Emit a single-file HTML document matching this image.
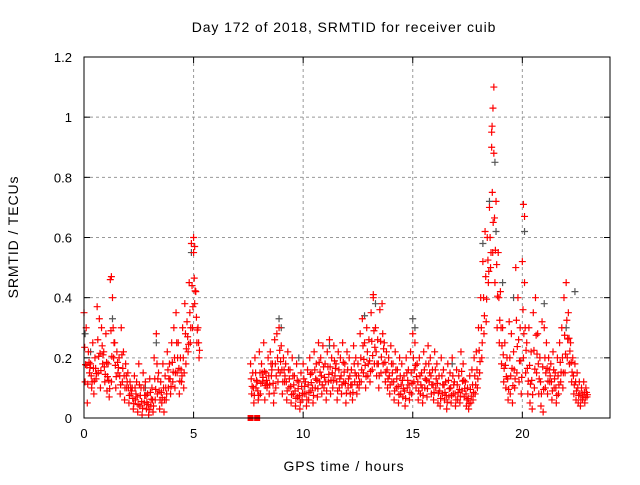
<!DOCTYPE html>
<html><head><meta charset="utf-8"><style>
html,body{margin:0;padding:0;background:#fff;}
svg text{font-family:"Liberation Sans",sans-serif;font-size:13px;fill:#000;}
svg text.big{font-size:14px;letter-spacing:0.9px;}
</style></head><body>
<svg id="chart" width="640" height="480" viewBox="0 0 640 480">
<rect width="640" height="480" fill="#fff"/>
<text class="big" x="344" y="32" text-anchor="middle">Day 172 of 2018, SRMTID for receiver cuib</text>
<text class="big" x="344" y="471" text-anchor="middle">GPS time / hours</text>
<text class="big" transform="translate(18,237) rotate(-90)" text-anchor="middle">SRMTID / TECUs</text>
<g id="grid"></g>
<g id="ticks"></g>
<g id="dark"></g>
<g id="red"></g>
<rect x="84" y="57" width="526" height="361" fill="none" stroke="#000" stroke-width="1"/>
</svg>
<script>
const xTicks=[0,5,10,15,20];
const yTicks=[0,0.2,0.4,0.6,0.8,1,1.2];
const yTickLabels=["0","0.2","0.4","0.6","0.8","1","1.2"];
const seg1Start=0, seg2Start=7.6, sampleStep=0.1;
const seg1Upper=[.35,.30,.22,.18,.25,.20,.37,.33,.30,.22,.28,.18,.46,.40,.25,.22,.20,.30,.22,.18,.15,.12,.10,.14,.12,.18,.10,.15,.12,.08,.13,.10,.20,.28,.15,.12,.18,.14,.22,.18,.25,.30,.35,.25,.20,.30,.38,.32,.45,.58,.55,.42,.30];
const seg1Lower=[.12,.05,.15,.10,.08,.13,.15,.10,.18,.12,.09,.07,.12,.20,.10,.15,.08,.12,.06,.10,.05,.08,.03,.06,.02,.04,.01,.05,.03,.01,.04,.02,.06,.08,.03,.05,.02,.06,.10,.08,.12,.10,.15,.08,.12,.10,.18,.22,.25,.30,.38,.25,.20];
const seg2Upper=[.18,.15,.20,.12,.22,.18,.25,.15,.20,.22,.18,.26,.28,.30,.24,.20,.18,.22,.16,.20,.14,.18,.12,.15,.18,.12,.16,.20,.15,.22,.18,.25,.20,.24,.18,.22,.26,.20,.24,.18,.22,.20,.25,.18,.22,.20,.16,.24,.20,.18,.28,.33,.25,.30,.26,.35,.40,.30,.26,.36,.38,.25,.22,.20,.24,.18,.22,.16,.20,.18,.14,.20,.16,.22,.28,.25,.18,.20,.15,.22,.18,.24,.20,.16,.22,.18,.14,.20,.16,.12,.18,.15,.20,.12,.16,.14,.22,.18,.12,.10,.14,.16,.20,.22,.30,.40,.52,.62,.60,.70,.95,.88,.72,.55,.42,.30,.25,.20,.32,.28,.22,.50,.40,.30,.52,.45,.25,.30,.22,.35,.40,.28,.20,.32,.30,.25,.20,.18,.22,.15,.20,.25,.30,.40,.45,.35,.25,.20,.18,.15,.12,.10,.12,.10];
const seg2Lower=[.08,.05,.10,.06,.08,.12,.06,.10,.08,.14,.05,.10,.12,.15,.08,.12,.06,.10,.05,.08,.04,.07,.03,.06,.08,.04,.06,.09,.05,.10,.07,.12,.08,.10,.06,.12,.08,.10,.14,.06,.10,.08,.12,.05,.10,.08,.06,.12,.08,.10,.12,.15,.10,.14,.12,.16,.18,.14,.10,.15,.18,.12,.10,.08,.12,.06,.10,.05,.08,.07,.04,.10,.06,.08,.12,.10,.06,.08,.05,.10,.07,.12,.08,.06,.10,.05,.04,.08,.06,.03,.07,.05,.08,.04,.06,.05,.09,.07,.04,.03,.05,.06,.08,.10,.15,.20,.28,.32,.45,.50,.55,.45,.30,.25,.18,.12,.10,.06,.08,.05,.10,.15,.12,.08,.20,.15,.08,.05,.03,.10,.15,.08,.04,.02,.10,.08,.12,.06,.10,.05,.08,.12,.10,.15,.20,.18,.12,.08,.06,.05,.04,.06,.05,.07];
const peakTimes=[5.0,5.05,18.62,18.66,18.7,18.6,20.05,20.1,1.25,13.2];
const peakValues=[.60,.57,.97,1.03,1.10,.90,.71,.67,.47,.41];
const darkTimes=[0.05,0.3,1.3,3.3,4.9,8.9,9.0,12.8,13.3,15.0,15.1,18.2,18.5,18.75,18.8,19.1,19.6,20.1,21.0,22.0,22.4,9.8,11.2,16.8,2.8];
const darkValues=[.28,.22,.33,.25,.55,.33,.30,.34,.38,.33,.30,.58,.72,.85,.62,.45,.40,.62,.38,.30,.42,.20,.24,.18,.10];
const squareTimes=[7.6,7.9];
const squareValues=[0,0];

const X0=84,X1=610,Y0=418,Y1=57,XMAX=24,YMAX=1.2;
const xs=t=>X0+t/XMAX*(X1-X0);
const ys=v=>Y0-v/YMAX*(Y0-Y1);
const NS="http://www.w3.org/2000/svg";
function mk(tag,attrs,parent){const e=document.createElementNS(NS,tag);for(const k in attrs)e.setAttribute(k,attrs[k]);parent.appendChild(e);return e;}
const grid=document.getElementById('grid'),ticks=document.getElementById('ticks');
xTicks.forEach(t=>{
  const x=xs(t);
  if(t>0){const l=mk('line',{x1:x,x2:x,y1:Y1,y2:Y0,stroke:'#999','stroke-dasharray':'3,3'},grid);
  
  }
  mk('line',{x1:x,x2:x,y1:Y0,y2:Y0-6,stroke:'#000'},ticks);
  mk('line',{x1:x,x2:x,y1:Y1,y2:Y1+6,stroke:'#000'},ticks);
  const tx=mk('text',{x:x,y:Y0+20,'text-anchor':'middle'},ticks);tx.textContent=t;
  
  
});
yTicks.forEach((v,i)=>{
  const y=ys(v);
  if(v>0&&v<YMAX){const l=mk('line',{x1:X0,x2:X1,y1:y,y2:y,stroke:'#999','stroke-dasharray':'3,3'},grid);
  
  }
  mk('line',{x1:X0,x2:X0+6,y1:y,y2:y,stroke:'#000'},ticks);
  mk('line',{x1:X1,x2:X1-6,y1:y,y2:y,stroke:'#000'},ticks);
  const tx=mk('text',{x:X0-12,y:y+5,'text-anchor':'end'},ticks);tx.textContent=yTickLabels[i];
  
  
});
function plus(t,v,col,g){
  const x=xs(t),y=ys(v);
  const p=mk('path',{d:`M${x-3.5},${y}H${x+3.5}M${x},${y-3.5}V${y+3.5}`,stroke:col,'stroke-width':1.2,fill:'none'},g);
  
  
}
const dark=document.getElementById('dark'),red=document.getElementById('red');
darkTimes.forEach((t,i)=>plus(t,darkValues[i],'#555',dark));
seg1Upper.forEach((v,i)=>{const t=seg1Start+i*sampleStep;plus(t,v,'#f00',red);plus(t+0.05,seg1Lower[i],'#f00',red);plus(t+0.03,(v+seg1Lower[i])/2,'#f00',red);plus(t+0.07,(v+3*seg1Lower[i])/4,'#f00',red);});
seg2Upper.forEach((v,i)=>{const t=seg2Start+i*sampleStep;plus(t,v,'#f00',red);plus(t+0.05,seg2Lower[i],'#f00',red);plus(t+0.03,(v+seg2Lower[i])/2,'#f00',red);plus(t+0.07,(v+3*seg2Lower[i])/4,'#f00',red);});
peakTimes.forEach((t,i)=>plus(t,peakValues[i],'#f00',red));
squareTimes.forEach((t,i)=>{const r=mk('rect',{x:xs(t)-3,y:ys(squareValues[i])-3,width:6,height:6,fill:'#f00'},red);

});
</script>
</body></html>
